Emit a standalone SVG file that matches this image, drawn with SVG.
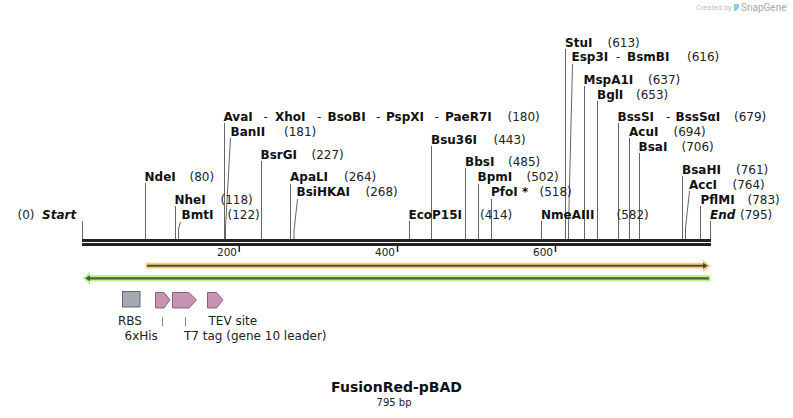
<svg xmlns="http://www.w3.org/2000/svg" width="793" height="418" viewBox="0 0 793 418">
<style>
.n{font-family:"DejaVu Sans",Verdana,sans-serif;font-size:12px;font-weight:bold;fill:#111}
.p{font-family:"DejaVu Sans",Verdana,sans-serif;font-size:12px;fill:#222}
.it{font-style:italic}
.tk{font-family:"DejaVu Sans",Verdana,sans-serif;font-size:10.5px;fill:#222;text-anchor:end}
.fl{font-family:"DejaVu Sans",Verdana,sans-serif;font-size:12px;fill:#222}
.c{stroke:#666;stroke-width:1;fill:none}
.fc{stroke:#888;stroke-width:1;fill:none}
.cds{fill:#c994b4;stroke:#6e4d63;stroke-width:0.8}
</style>
<rect width="793" height="418" fill="#fff"/>

<g id="watermark">
<text x="696" y="10" style="font-family:Roboto,sans-serif;font-size:7.5px;fill:#c4c4c4">Created by</text>
<path d="M734 4 h5 v4 l-3 3 h-2 z" fill="#8ecbf0"/>
<text x="741" y="10.5" style="font-family:Roboto,sans-serif;font-size:10px;fill:#a8a8a8">SnapGene</text>
</g>

<g id="connectors">
<path class="c" d="M82.5 221V239"/>
<path class="c" d="M145.5 183V239"/>
<path class="c" d="M175.5 206V239"/>
<path class="c" d="M180.5 222L178.5 229V239"/>
<path class="c" d="M224.5 123V239"/>
<path class="c" d="M230.5 138L225.5 228V239"/>
<path class="c" d="M261.5 161V239"/>
<path class="c" d="M290.5 184V239"/>
<path class="c" d="M297.5 199L294 231V239"/>
<path class="c" d="M409.5 221V239"/>
<path class="c" d="M431.5 146V239"/>
<path class="c" d="M465.5 168V239"/>
<path class="c" d="M478.5 184V239"/>
<path class="c" d="M491.5 199V239"/>
<path class="c" d="M541.5 221V239"/>
<path class="c" d="M565.5 49V239"/>
<path class="c" d="M572.5 64L568.5 227V239"/>
<path class="c" d="M584.5 86V239"/>
<path class="c" d="M597.5 101V239"/>
<path class="c" d="M618.5 123V239"/>
<path class="c" d="M629.5 138V239"/>
<path class="c" d="M639.5 153V239"/>
<path class="c" d="M682.5 176V239"/>
<path class="c" d="M689.5 191L685.5 228V239"/>
<path class="c" d="M700.5 206V239"/>
<path class="c" d="M710.5 221V239"/>
<path class="fc" d="M162.5 317V326"/>
<path class="fc" d="M185.5 317V326"/>
</g>

<g id="backbone">
<rect x="82" y="239" width="629" height="3" fill="#222"/>
<rect x="82" y="243" width="629" height="3" fill="#222"/>
<path d="M239.3 246V252M397.5 246V252M555.5 246V252" stroke="#222" stroke-width="1.5"/>
<text class="tk" x="237" y="256">200</text>
<text class="tk" x="395" y="256">400</text>
<text class="tk" x="553" y="256">600</text>
</g>

<g id="site-start"><text class="p" x="17.5" y="219">(0)</text><text class="n it" x="42" y="219">Start</text></g>
<g id="site-NdeI"><text class="n" x="144.5" y="181">NdeI</text><text class="p" x="189.5" y="181">(80)</text></g>
<g id="site-NheI"><text class="n" x="174.5" y="203.5">NheI</text><text class="p" x="220.5" y="203.5">(118)</text></g>
<g id="site-BmtI"><text class="n" x="181.5" y="219">BmtI</text><text class="p" x="227.5" y="219">(122)</text></g>
<g id="site-AvaI"><text y="120.5"><tspan class="n" x="223.5">AvaI</tspan><tspan class="p" x="263.5">-</tspan><tspan class="n" x="275">XhoI</tspan><tspan class="p" x="317">-</tspan><tspan class="n" x="327.5">BsoBI</tspan><tspan class="p" x="376">-</tspan><tspan class="n" x="386">PspXI</tspan><tspan class="p" x="434.5">-</tspan><tspan class="n" x="445">PaeR7I</tspan><tspan class="p" x="507.5">(180)</tspan></text></g>
<g id="site-BanII"><text class="n" x="230.5" y="135.5">BanII</text><text class="p" x="284" y="135.5">(181)</text></g>
<g id="site-BsrGI"><text class="n" x="260.5" y="158.5">BsrGI</text><text class="p" x="311.5" y="158.5">(227)</text></g>
<g id="site-ApaLI"><text class="n" x="290" y="181">ApaLI</text><text class="p" x="344" y="181">(264)</text></g>
<g id="site-BsiHKAI"><text class="n" x="296.5" y="196">BsiHKAI</text><text class="p" x="365.5" y="196">(268)</text></g>
<g id="site-EcoP15I"><text class="n" x="408.5" y="219">EcoP15I</text><text class="p" x="480" y="219">(414)</text></g>
<g id="site-Bsu36I"><text class="n" x="431" y="143.5">Bsu36I</text><text class="p" x="493.5" y="143.5">(443)</text></g>
<g id="site-BbsI"><text class="n" x="465" y="166">BbsI</text><text class="p" x="508" y="166">(485)</text></g>
<g id="site-BpmI"><text class="n" x="477.5" y="181">BpmI</text><text class="p" x="526.5" y="181">(502)</text></g>
<g id="site-PfoI"><text class="n" x="491" y="196">PfoI *</text><text class="p" x="539.5" y="196">(518)</text></g>
<g id="site-NmeAIII"><text class="n" x="541" y="219">NmeAIII</text><text class="p" x="616.5" y="219">(582)</text></g>
<g id="site-StuI"><text class="n" x="565" y="46.5">StuI</text><text class="p" x="607.5" y="46.5">(613)</text></g>
<g id="site-Esp3I"><text y="61"><tspan class="n" x="571.5">Esp3I</tspan><tspan class="p" x="616">-</tspan><tspan class="n" x="627">BsmBI</tspan><tspan class="p" x="687">(616)</tspan></text></g>
<g id="site-MspA1I"><text class="n" x="583.5" y="84">MspA1I</text><text class="p" x="648" y="84">(637)</text></g>
<g id="site-BglI"><text class="n" x="597" y="99">BglI</text><text class="p" x="636" y="99">(653)</text></g>
<g id="site-BssSI"><text y="121"><tspan class="n" x="617.5">BssSI</tspan><tspan class="p" x="666">-</tspan><tspan class="n" x="675.5">BssSαI</tspan><tspan class="p" x="734">(679)</tspan></text></g>
<g id="site-AcuI"><text class="n" x="629" y="136">AcuI</text><text class="p" x="673.5" y="136">(694)</text></g>
<g id="site-BsaI"><text class="n" x="638.5" y="150.5">BsaI</text><text class="p" x="681.5" y="150.5">(706)</text></g>
<g id="site-BsaHI"><text class="n" x="682" y="173.5">BsaHI</text><text class="p" x="736" y="173.5">(761)</text></g>
<g id="site-AccI"><text class="n" x="689" y="188.5">AccI</text><text class="p" x="732.5" y="188.5">(764)</text></g>
<g id="site-PflMI"><text class="n" x="700.5" y="203.5">PflMI</text><text class="p" x="747.5" y="203.5">(783)</text></g>
<g id="site-end"><text class="n it" x="710" y="218.5">End</text><text class="p" x="740" y="218.5">(795)</text></g>

<g id="feature-orange">
<rect x="145.5" y="262.7" width="558" height="6" fill="#fdd07f"/>
<polygon points="703,259.7 710.5,265.7 703,271.7" fill="#fdd07f"/>
<path d="M147 265.8H704" stroke="#4a4a4a" stroke-width="2"/>
<polygon points="703,262.8 708,265.8 703,268.8" fill="#4a4a4a"/>
</g>

<g id="feature-green">
<rect x="90" y="275" width="620.7" height="6.5" fill="#bff48c"/>
<polygon points="90,271.8 82.7,278.3 90,284.8" fill="#bff48c"/>
<path d="M89 278.3H709" stroke="#4d5a40" stroke-width="2.2"/>
<polygon points="90,275.3 85,278.3 90,281.3" fill="#4d5a40"/>
</g>

<g id="feature-RBS">
<rect x="122.5" y="291.5" width="17.5" height="15.5" fill="#a3aab3" stroke="#4a4f55" stroke-width="0.8"/>
<text class="fl" x="118" y="325">RBS</text>
</g>
<g id="feature-6xHis">
<polygon class="cds" points="155.5,292.5 164,292.5 170,300 164,308 155.5,308"/>
<text class="fl" x="124.5" y="340">6xHis</text>
</g>
<g id="feature-T7tag">
<polygon class="cds" points="172.5,292.5 189,292.5 196.5,300 189,308 172.5,308"/>
<text class="fl" x="184" y="340">T7 tag (gene 10 leader)</text>
</g>
<g id="feature-TEV">
<polygon class="cds" points="207.5,292.5 216.5,292.5 223,300 216.5,308 207.5,308"/>
<text class="fl" x="208.5" y="325">TEV site</text>
</g>

<g id="title">
<text x="396.5" y="392" text-anchor="middle" style="font-family:'DejaVu Sans',Verdana,sans-serif;font-size:14px;font-weight:bold;fill:#111">FusionRed-pBAD</text>
<text x="394" y="406" text-anchor="middle" style="font-family:'DejaVu Sans',Verdana,sans-serif;font-size:10px;fill:#222">795 bp</text>
</g>
</svg>
